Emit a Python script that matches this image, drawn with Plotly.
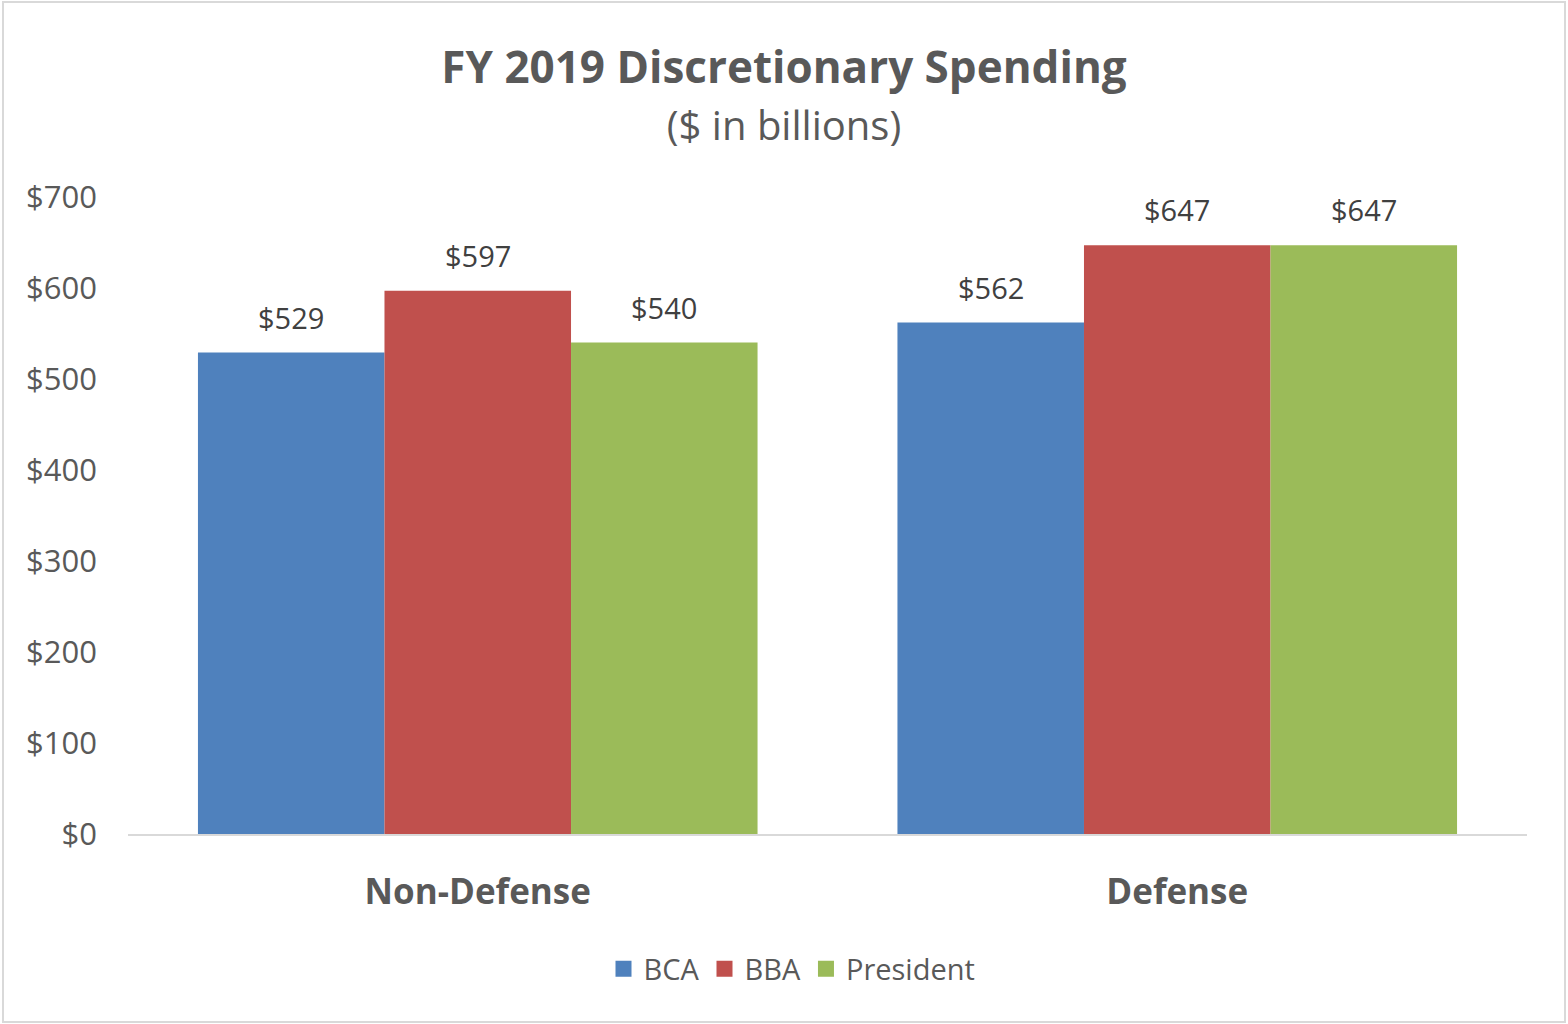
import plotly.graph_objects as go

categories = ["Non-Defense", "Defense"]
series_names = ["BCA", "BBA", "President"]
bca = [529, 562]
bba = [597, 647]
president = [540, 647]
colors = ["#4F81BD", "#C0504D", "#9BBB59"]
tick_vals = [0, 100, 200, 300, 400, 500, 600, 700]
tick_text = ["$0", "$100", "$200", "$300", "$400", "$500", "$600", "$700"]

W, H = 1568, 1024
ml, mr, mt, mb = 128, 41, 197, 190
bargap = 0.2
FONT = "Open Sans"

fig = go.Figure()
all_series = [bca, bba, president]
for name, vals, col in zip(series_names, all_series, colors):
    fig.add_trace(go.Bar(
        name=name, x=categories, y=vals,
        marker=dict(color=col, line=dict(width=0)),
        showlegend=False, hoverinfo="x+y+name",
    ))
    # legend-only entry with a square swatch
    fig.add_trace(go.Scatter(
        name=name, x=[None], y=[None], mode="markers",
        marker=dict(symbol="square", size=16, color=col),
        showlegend=True,
    ))

# data labels placed on the axis scale
n = len(series_names)
bw = (1 - bargap) / n
for j, vals in enumerate(all_series):
    for i, v in enumerate(vals):
        fig.add_annotation(
            x=i + (j - (n - 1) / 2) * bw, y=v, xref="x", yref="y",
            text=f"${v}", showarrow=False, yanchor="bottom", yshift=14,
            font=dict(size=29, color="#404040", family=FONT),
        )

pw = W - ml - mr
ph = H - mt - mb

fig.update_layout(
    width=W, height=H,
    margin=dict(l=ml, r=mr, t=mt, b=mb),
    paper_bgcolor="white", plot_bgcolor="white",
    barmode="group", bargap=bargap, bargroupgap=0,
    font=dict(family=FONT, color="#595959"),
    title=dict(
        text="<b>FY 2019 Discretionary Spending</b><br><span style='font-size:40px'>($ in billions)</span>",
        x=0.5, xanchor="center", y=1 - 83 / H, yanchor="middle",
        font=dict(size=44, color="#595959", family=FONT),
    ),
    xaxis=dict(
        tickfont=dict(size=35, color="#595959", family=FONT),
        tickprefix="<b>", ticksuffix="</b>",
        showline=True, linecolor="#D9D9D9", linewidth=2,
        ticks="", ticklabelstandoff=26,
        range=[-0.5, 1.5],
    ),
    yaxis=dict(
        range=[0, 700], tickvals=tick_vals, ticktext=tick_text,
        showgrid=False, zeroline=False, showline=False,
        tickfont=dict(size=31, color="#595959", family=FONT),
        ticks="", ticklabelstandoff=30,
    ),
    legend=dict(
        orientation="h", x=(792 - ml) / pw, xanchor="center", y=-(969 - 834) / ph, yanchor="middle",
        font=dict(size=29, color="#595959", family=FONT),
        itemwidth=30, traceorder="normal", itemsizing="trace",
    ),
    showlegend=True,
)

fig.add_shape(
    type="rect", xref="paper", yref="paper",
    x0=(3 - ml) / pw, x1=(W - 3 - ml) / pw,
    y0=-(H - 2 - (H - mb)) / ph, y1=1 + (mt - 2) / ph,
    line=dict(color="#D9D9D9", width=2), fillcolor="rgba(0,0,0,0)", layer="below",
)

fig.write_html(
    "out.html",
    config={"displayModeBar": False},
    post_script="document.body.style.margin='0';",
)
